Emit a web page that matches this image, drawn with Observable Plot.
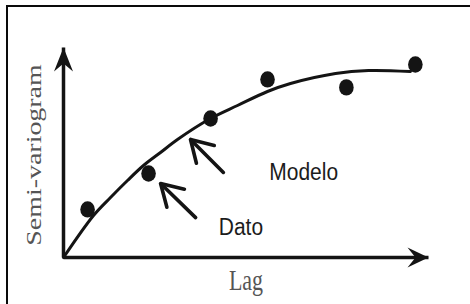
<!DOCTYPE html>
<html><head><meta charset="utf-8">
<script src="https://cdn.jsdelivr.net/npm/d3@7"></script>
<script src="https://cdn.jsdelivr.net/npm/@observablehq/plot@0.6"></script>
<style>
html,body{margin:0;padding:0;background:#fff;overflow:hidden}
#wrap{position:relative;width:470px;height:304px}
#frame{position:absolute;left:6px;top:5px;width:464px;height:299px;border-top:2.5px solid #0a0a0a;border-left:2.5px solid #0a0a0a;box-sizing:border-box;pointer-events:none}
svg{display:block}
</style></head><body>
<div id="wrap"><div id="chart"></div><div id="frame"></div></div>
<script>
// ---- data (arbitrary units: lag 0–10, semivariance 0–10) ----
const lagDomain = [0, 10];
const gammaDomain = [0, 10];

const datoLag   = [0.66, 2.33, 4.03, 5.59, 7.75, 9.64];
const datoGamma = [2.29, 4.00, 6.62, 8.48, 8.10, 9.19];

const modeloLag   = [0, 0.822, 1.288, 1.753, 2.192, 2.658, 3.123, 4.027, 4.767, 5.589, 6.219, 7.452, 8.356, 9.507];
const modeloGamma = [0, 2.000, 2.857, 3.667, 4.381, 5.000, 5.619, 6.619, 7.238, 7.905, 8.286, 8.762, 8.905, 8.857];

// annotation arrows (tail -> tip) pointing at two data points
const arrowTailLag   = [4.38, 3.62];
const arrowTailGamma = [4.05, 1.90];
const arrowTipLag    = [3.48, 2.66];
const arrowTipGamma  = [5.62, 3.52];

const labelText  = ["Modelo", "Dato"];
const labelLag   = [6.58, 4.86];
const labelGamma = [4.07, 1.43];

const xLabel = "Lag";
const yLabel = "Semi-variogram";

// ---- tables ----
const dato = datoLag.map((x, i) => ({x, y: datoGamma[i]}));
const modelo = modeloLag.map((x, i) => ({x, y: modeloGamma[i]}));
const arrows = arrowTailLag.map((x1, i) => ({x1, y1: arrowTailGamma[i], x2: arrowTipLag[i], y2: arrowTipGamma[i]}));
const labels = labelText.map((t, i) => ({t, x: labelLag[i], y: labelGamma[i]}));
const xAxisLine = [{x1: lagDomain[0], y1: gammaDomain[0], x2: lagDomain[1], y2: gammaDomain[0]}];
const yAxisLine = [{x1: lagDomain[0], y1: gammaDomain[0], x2: lagDomain[0], y2: gammaDomain[1]}];

const NS = "http://www.w3.org/2000/svg";
function marker(d, filled) {
  return (color) => {
    const m = document.createElementNS(NS, "marker");
    m.setAttribute("markerUnits", "userSpaceOnUse");
    m.setAttribute("orient", "auto");
    m.setAttribute("overflow", "visible");
    m.setAttribute("markerWidth", "1");
    m.setAttribute("markerHeight", "1");
    const p = document.createElementNS(NS, "path");
    p.setAttribute("d", d);
    if (filled) { p.setAttribute("fill", color); p.setAttribute("stroke", "none"); }
    else {
      p.setAttribute("fill", "none"); p.setAttribute("stroke", color);
      p.setAttribute("stroke-width", "3.6"); p.setAttribute("stroke-linejoin", "miter");
      p.setAttribute("stroke-linecap", "round");
    }
    m.appendChild(p);
    return m;
  };
}
const openHead = marker("M-21,-12.6L0,0L-21,12.6", false);
const yHead = marker("M0,0L-24,-9.5L-16,0L-24,9.5Z", true);
const xHead = marker("M0,0L-21,-10L-13,0L-21,10Z", true);

const ink = "#141414";
const chart = Plot.plot({
  width: 470, height: 304,
  marginLeft: 63, marginRight: 42, marginTop: 47, marginBottom: 47,
  x: {domain: lagDomain, axis: null},
  y: {domain: gammaDomain, axis: null},
  marks: [
    Plot.link(xAxisLine, {x1: "x1", y1: "y1", x2: "x2", y2: "y2", stroke: ink, strokeWidth: 3.5, markerEnd: xHead}),
    Plot.link(yAxisLine, {x1: "x1", y1: "y1", x2: "x2", y2: "y2", stroke: ink, strokeWidth: 3.5, markerEnd: yHead}),
    Plot.line(modelo, {x: "x", y: "y", curve: "catmull-rom", stroke: ink, strokeWidth: 3}),
    Plot.dot(dato, {x: "x", y: "y", r: 7.3, fill: ink, stroke: "none"}),
    Plot.link(arrows, {x1: "x1", y1: "y1", x2: "x2", y2: "y2", stroke: ink, strokeWidth: 3.6, strokeLinecap: "round", markerEnd: openHead}),
    Plot.text(labels, {x: "x", y: "y", text: "t", fontFamily: "Liberation Sans, Arial, sans-serif", fontSize: 21, fill: "#1c1c1c", textAnchor: "middle", lineAnchor: "middle"}),
    Plot.text([xLabel], {text: d => d, frameAnchor: "bottom", dy: 23, lineAnchor: "middle", textAnchor: "middle", fontFamily: "Liberation Serif, Times New Roman, serif", fontSize: 22, fill: "#555"}),
    Plot.text([yLabel], {text: d => d, frameAnchor: "left", dx: -29, dy: 2.5, rotate: -90, lineAnchor: "middle", textAnchor: "middle", fontFamily: "Liberation Serif, Times New Roman, serif", fontSize: 21, fill: "#555"})
  ]
});
document.getElementById("chart").appendChild(chart);

// the reference figure is stretched vertically; reproduce that about each element's anchor
function appendScale(el, sx, sy) {
  const tr = el.getAttribute("transform") || "";
  el.setAttribute("transform", `${tr} scale(${sx},${sy})`);
}
chart.querySelectorAll("text").forEach(t => {
  const s = t.textContent;
  if (s === xLabel) appendScale(t, 1, 1.33);
  else if (s === yLabel) appendScale(t, 1.33, 1);   // rotated: local x is screen vertical
  else if (labelText.includes(s)) appendScale(t, 1, 1.15);
});
chart.querySelectorAll("circle").forEach(c => {
  if (!c.hasAttribute("cx") || !c.hasAttribute("cy")) return;
  const cx = +c.getAttribute("cx"), cy = +c.getAttribute("cy");
  if (isFinite(cx) && isFinite(cy))
    c.setAttribute("transform", `translate(${cx},${cy}) scale(1,1.12) translate(${-cx},${-cy})`);
});
</script>
</body></html>
